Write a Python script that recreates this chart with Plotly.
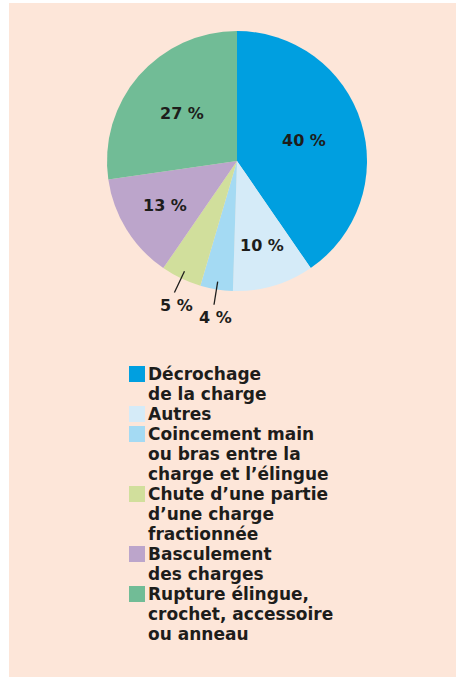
import math
import plotly.graph_objects as go

# ---- data ----
categories = [
    "Décrochage\nde la charge",
    "Autres",
    "Coincement main\nou bras entre la\ncharge et l’élingue",
    "Chute d’une partie\nd’une charge\nfractionnée",
    "Basculement\ndes charges",
    "Rupture élingue,\ncrochet, accessoire\nou anneau",
]
values = [40, 10, 4, 5, 13, 27]
colors = ["#009fe0", "#d5ebf8", "#a4daf3", "#d1df9c", "#bca5cb", "#71bc96"]

# ---- layout / style constants ----
W, H = 457, 677
CX, CY, R = 237, 161, 130          # pie centre / radius in pixels
TXT = "#1d1d1b"
FONT = "DejaVu Sans"
label_radius = [0.54, 0.68, 1.12, 1.12, 0.65, 0.56]   # fraction of radius for each label


def px(x):
    return x / W


def py(y):
    return 1 - y / H


fig = go.Figure()
fig.add_trace(go.Pie(
    labels=[c.replace("\n", " ") for c in categories],
    values=values,
    marker=dict(colors=colors, line=dict(width=0)),
    sort=False,
    direction="clockwise",
    rotation=0,
    textinfo="none",
    hoverinfo="label+value",
    showlegend=False,
    domain=dict(x=[px(CX - R), px(CX + R)], y=[py(CY + R), py(CY - R)]),
))

# background panel
fig.add_shape(type="rect", xref="paper", yref="paper", layer="below",
              x0=px(9), x1=px(456), y0=0, y1=py(3),
              fillcolor="#fde6d9", line=dict(width=0))

# percentage labels (positions derived from slice mid-angles)
total = sum(values)
cum = 0
annotations = []
shapes = []
for v, rf in zip(values, label_radius):
    mid = (cum + v / 2) / total * 2 * math.pi
    cum += v
    sx, sy = math.sin(mid), -math.cos(mid)
    label = f"{v}\u00a0%"
    if rf > 1:
        # outside label with leader line
        r0, r1 = 0.94 * R, rf * R
        ex, ey = CX + sx * r1, CY + sy * r1
        shapes.append(dict(type="line", xref="paper", yref="paper",
                           x0=px(CX + sx * r0), y0=py(CY + sy * r0),
                           x1=px(ex), y1=py(ey),
                           line=dict(color=TXT, width=1.3)))
        lx, ly = ex + 2, ey + 13
    else:
        lx, ly = CX + sx * rf * R, CY + sy * rf * R
    annotations.append(dict(x=px(lx), y=py(ly), xref="paper", yref="paper",
                            text=f"<b>{label}</b>", showarrow=False,
                            xanchor="center", yanchor="middle",
                            font=dict(family=FONT, size=16, color=TXT)))

# custom legend
LX_SQ, LY0, PITCH, SQ = 129, 366, 20, 16
line_idx = 0
for cat, col in zip(categories, colors):
    top = LY0 + PITCH * line_idx
    shapes.append(dict(type="rect", xref="paper", yref="paper",
                       x0=px(LX_SQ), x1=px(LX_SQ + SQ), y0=py(top + SQ), y1=py(top),
                       fillcolor=col, line=dict(width=0)))
    for k, ln in enumerate(cat.split("\n")):
        yc = top + PITCH * k + 8
        annotations.append(dict(x=px(146), y=py(yc), xref="paper", yref="paper",
                                text=f"<b>{ln}</b>", showarrow=False,
                                xanchor="left", yanchor="middle",
                                font=dict(family=FONT, size=17, color=TXT)))
    line_idx += len(cat.split("\n"))

for s in shapes:
    fig.add_shape(**s)

fig.update_layout(
    width=W, height=H,
    margin=dict(l=0, r=0, t=0, b=0),
    paper_bgcolor="white",
    plot_bgcolor="white",
    annotations=annotations,
    showlegend=False,
)

fig.write_html(
    "out.html",
    config={"displayModeBar": False},
    post_script="document.body.style.margin='0';document.body.style.overflow='hidden';",
)
